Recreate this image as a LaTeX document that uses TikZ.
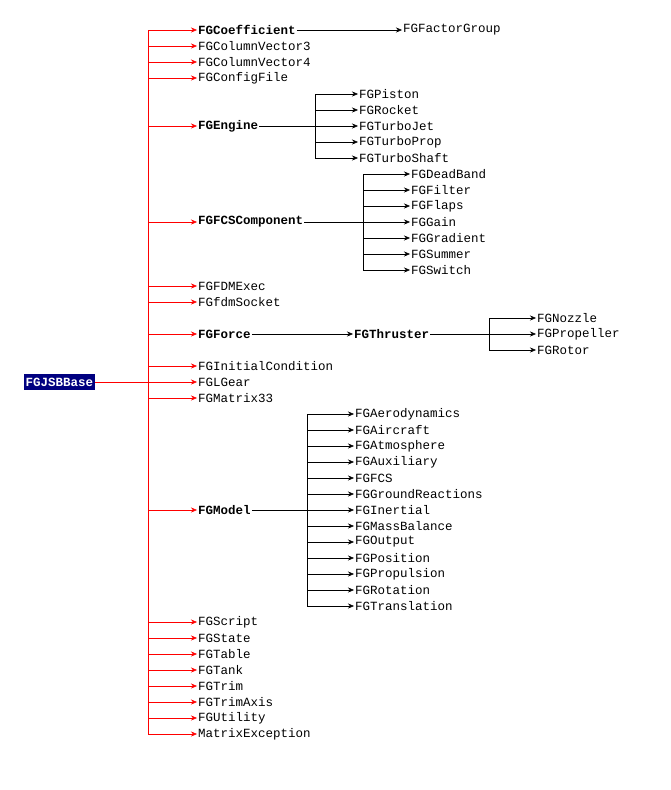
\documentclass[tikz,border=0pt]{standalone}
\usepackage{fontspec}
\setmonofont{Liberation Mono}
\usetikzlibrary{arrows.meta}
\begin{document}
\begin{tikzpicture}[x=1pt,y=-1pt,
  cls/.style={anchor=west,inner sep=1pt,font=\ttfamily\fontsize{12.5}{13}\selectfont},
  bcls/.style={cls,font=\ttfamily\bfseries\fontsize{12.5}{13}\selectfont},
  inh/.style={red,-{Stealth[length=6pt,width=5pt]}},
  sub/.style={black,-{Stealth[length=6pt,width=5pt]}}]
\useasboundingbox (0,0) rectangle (670,790);
\node[fill={rgb,255:red,0;green,0;blue,128},text=white,inner sep=1.5pt,font=\ttfamily\bfseries\fontsize{12.5}{13}\selectfont,minimum height=16pt] (root) at (59.5,382) {FGJSBBase};
\coordinate (top) at (148,30);
\coordinate (bot) at (148,734);
\coordinate (rj) at (148,382);
\draw[red] (top) -- (bot);
\draw[red] (root.east) -- (rj);
\foreach \n/\y/\s in {a/30/bcls,b/46/cls,c/62/cls,d/78/cls,e/126/bcls,f/222/bcls,g/286/cls,h/302/cls,i/334/bcls,j/366/cls,k/382/cls,l/398/cls,m/510/bcls,n/622/cls,o/638/cls,p/654/cls,q/670/cls,r/686/cls,s/702/cls,t/718/cls,u/734/cls}{
  \coordinate (j\n) at (148,\y);
}
\foreach \n/\y/\s/\t in {a/30/bcls/FGCoefficient,b/46/cls/FGColumnVector3,c/62/cls/FGColumnVector4,d/78/cls/FGConfigFile,e/126/bcls/FGEngine,f/222/bcls/FGFCSComponent,g/286/cls/FGFDMExec,h/302/cls/FGfdmSocket,i/334/bcls/FGForce,j/366/cls/FGInitialCondition,k/382/cls/FGLGear,l/398/cls/FGMatrix33,m/510/bcls/FGModel,n/622/cls/FGScript,o/638/cls/FGState,p/654/cls/FGTable,q/670/cls/FGTank,r/686/cls/FGTrim,s/702/cls/FGTrimAxis,t/718/cls/FGUtility,u/734/cls/MatrixException}{
  \node[\s] (\n) at (197,\y) {\t};
  \draw[inh] (j\n) -- (\n.west);
}
% Coefficient
\node[cls] (fg) at (402,30) {FGFactorGroup};
\draw[sub] (a.east) -- (fg.west);
% Engine
\draw (e.east) -- (315,126);
\draw (315,94) -- (315,158);
\foreach \n/\y/\t in {e1/94/FGPiston,e2/110/FGRocket,e3/126/FGTurboJet,e4/142/FGTurboProp,e5/158/FGTurboShaft}{
  \node[cls] (\n) at (358,\y) {\t};
  \coordinate (c\n) at (315,\y);
  \draw[sub] (c\n) -- (\n.west);
}
% FCS
\draw (f.east) -- (363,222);
\draw (363,174) -- (363,270);
\foreach \n/\y/\t in {f1/174/FGDeadBand,f2/190/FGFilter,f3/206/FGFlaps,f4/222/FGGain,f5/238/FGGradient,f6/254/FGSummer,f7/270/FGSwitch}{
  \node[cls] (\n) at (410,\y) {\t};
  \coordinate (c\n) at (363,\y);
  \draw[sub] (c\n) -- (\n.west);
}
% Force
\node[bcls] (thr) at (353,334) {FGThruster};
\draw[sub] (i.east) -- (thr.west);
\draw (thr.east) -- (489,334);
\draw (489,318) -- (489,350);
\foreach \n/\y/\t in {t1/318/FGNozzle,t2/334/FGPropeller,t3/350/FGRotor}{
  \node[cls] (\n) at (536,\y) {\t};
  \coordinate (c\n) at (489,\y);
  \draw[sub] (c\n) -- (\n.west);
}
% Model
\draw (m.east) -- (307,510);
\draw (307,414) -- (307,606);
\foreach \n/\y/\t in {m1/414/FGAerodynamics,m2/430/FGAircraft,m3/446/FGAtmosphere,m4/462/FGAuxiliary,m5/478/FGFCS,m6/494/FGGroundReactions,m7/510/FGInertial,m8/526/FGMassBalance,m9/542/FGOutput,m10/558/FGPosition,m11/574/FGPropulsion,m12/590/FGRotation,m13/606/FGTranslation}{
  \node[cls] (\n) at (354,\y) {\t};
  \coordinate (c\n) at (307,\y);
  \draw[sub] (c\n) -- (\n.west);
}
\end{tikzpicture}
\end{document}
